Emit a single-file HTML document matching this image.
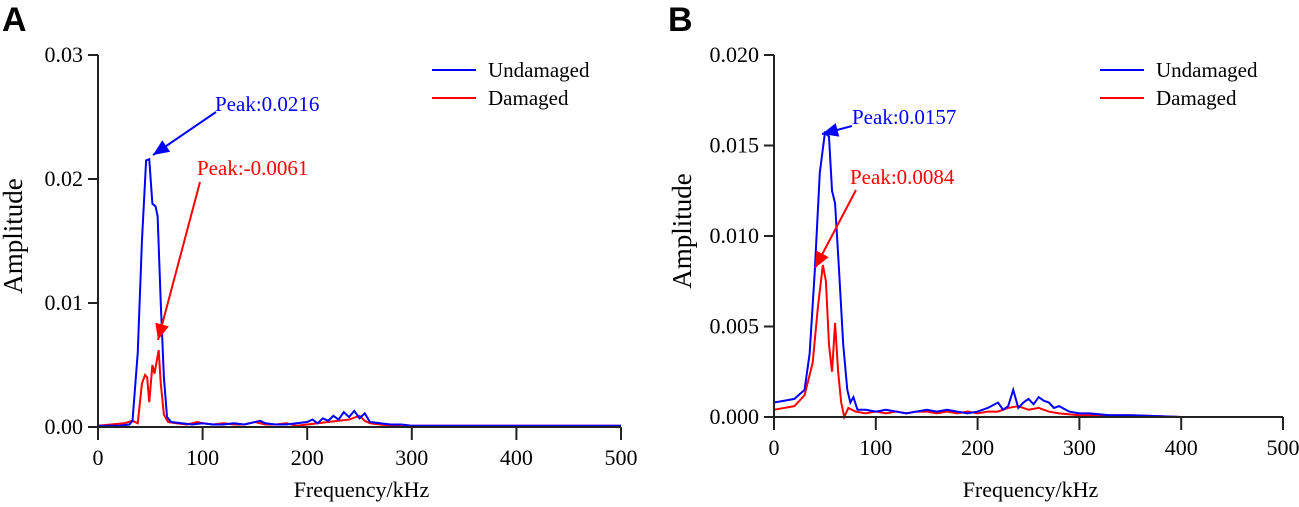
<!DOCTYPE html>
<html><head><meta charset="utf-8"><style>
body{margin:0;background:#fff;width:1299px;height:502px;overflow:hidden}
svg{font-family:"Liberation Serif",serif}
.pl{font-family:"Liberation Sans",sans-serif;font-weight:bold;font-size:34px}
</style></head><body>
<svg id="s" width="1299" height="502"></svg>
<script>
// Panel A data
const freqA_U=[0,20,30,33,38,42,46,49,52,55,57,60,63,66,70,80,90,100,110,120,130,140,150,155,160,170,180,190,200,205,210,215,220,225,230,235,240,245,250,255,260,270,280,290,300,320,350,400,450,500];
const ampA_U=[0.0001,0.0001,0.0002,0.0005,0.006,0.015,0.0215,0.0216,0.018,0.0178,0.017,0.010,0.004,0.0008,0.0004,0.0003,0.0002,0.0003,0.0002,0.0002,0.0003,0.0002,0.0004,0.0005,0.0003,0.0002,0.0002,0.0003,0.0004,0.0006,0.0003,0.0007,0.0005,0.0009,0.0006,0.0012,0.0008,0.0013,0.0007,0.0011,0.0004,0.0003,0.0002,0.0002,0.0001,0.0001,0.0001,0.0001,0.0001,0.0001];
const freqA_D=[0,25,33,38,42,45,47,49,52,54,58,60,63,67,75,85,95,100,110,120,130,140,150,155,160,170,180,190,200,210,220,230,240,250,255,260,270,280,300,350,400,450,500];
const ampA_D=[0.0001,0.0003,0.0005,0.0003,0.0035,0.0042,0.0040,0.0020,0.0050,0.0043,0.0062,0.0035,0.0010,0.0004,0.0003,0.0002,0.0004,0.0003,0.0002,0.0003,0.0002,0.0002,0.0004,0.0003,0.0002,0.0002,0.0003,0.0001,0.0002,0.0003,0.0004,0.0005,0.0006,0.0009,0.0005,0.0003,0.0002,0.0001,0.0001,0.0001,0.0001,0.0001,0.0001];
// Panel B data
const freqB_U=[0,10,20,30,35,40,45,50,54,57,60,64,68,72,75,78,82,90,100,110,120,130,140,150,160,170,180,190,200,210,220,225,230,235,240,245,250,255,260,265,270,275,280,290,300,310,330,350,400,450,500];
const ampB_U=[0.0008,0.0009,0.001,0.0015,0.0035,0.008,0.0135,0.0157,0.0155,0.0125,0.0118,0.008,0.004,0.0015,0.0008,0.0011,0.0004,0.0004,0.0003,0.0004,0.0003,0.0002,0.0003,0.0004,0.0003,0.0004,0.0003,0.0002,0.0003,0.0005,0.0008,0.0004,0.0006,0.0015,0.0005,0.0008,0.0010,0.0007,0.0011,0.0009,0.0008,0.0005,0.0006,0.0003,0.0002,0.0002,0.0001,0.0001,0.0,0.0,0.0];
const freqB_D=[0,10,20,30,38,43,48,51,54,57,60,63,66,69,73,80,90,100,110,120,130,140,150,160,170,180,190,200,210,220,230,240,250,260,270,280,300,350,400,450,500];
const ampB_D=[0.0004,0.0005,0.0006,0.0012,0.003,0.006,0.0084,0.0075,0.004,0.0025,0.0052,0.0025,0.0008,0.0,0.0005,0.0003,0.0002,0.0003,0.0002,0.0003,0.0002,0.0003,0.0003,0.0002,0.0003,0.0002,0.0003,0.0002,0.0003,0.0003,0.0005,0.0006,0.0004,0.0005,0.0003,0.0002,0.0001,0.0001,0.0,0.0,0.0];
const ticksX=[0,100,200,300,400,500];
const ticksA=[0,0.01,0.02,0.03], ticksAL=["0.00","0.01","0.02","0.03"];
const ticksB=[0,0.005,0.01,0.015,0.02], ticksBL=["0.000","0.005","0.010","0.015","0.020"];

const NS="http://www.w3.org/2000/svg", svg=document.getElementById('s');
function mk(t,a,txt){const e=document.createElementNS(NS,t);for(const k in a)e.setAttribute(k,a[k]);if(txt!==undefined)e.textContent=txt;svg.appendChild(e);return e;}
function arrow(x1,y1,x2,y2,c){
  const l=mk('line',{x1,y1,x2,y2,stroke:c,'stroke-width':2});
  
  
  const a=Math.atan2(y2-y1,x2-x1),L=16,W=7;
  const bx=x2-L*Math.cos(a),by=y2-L*Math.sin(a);
  const p=mk('polygon',{points:`${x2},${y2} ${bx-W*Math.sin(a)},${by+W*Math.cos(a)} ${bx+W*Math.sin(a)},${by-W*Math.cos(a)}`,fill:c});
  
  
}
function panel(o){
  const X=f=>o.x0+(o.x1-o.x0)*f/500, Y=v=>o.y0-(o.y0-o.yt)*v/o.ymax;
  const lab=mk('text',{x:o.lx,y:31,class:'pl'},o.letter);
  
  
  function series(fr,am,c,n){
    const p=mk('polyline',{points:fr.map((f,i)=>X(f)+','+Y(am[i])).join(' '),fill:'none',stroke:c,'stroke-width':2});
    
    
  }
  series(o.fD,o.aD,'#f00','damaged-line');
  series(o.fU,o.aU,'#00f','undamaged-line');
  const ax=mk('path',{d:`M${o.x0},${o.yt}V${o.y0}H${o.x1}`,stroke:'#222','stroke-width':2,fill:'none'});
  
  
  ticksX.forEach(t=>{
    mk('line',{x1:X(t),x2:X(t),y1:o.y0,y2:o.y0+13,stroke:'#222','stroke-width':2});
    const e=mk('text',{x:X(t),y:o.y0+38,'text-anchor':'middle','font-size':22},t);
    
    
  });
  o.ty.forEach((t,i)=>{
    mk('line',{x1:o.x0-10,x2:o.x0,y1:Y(t),y2:Y(t),stroke:'#222','stroke-width':2});
    const e=mk('text',{x:o.x0-15,y:Y(t)+7,'text-anchor':'end','font-size':22},o.tl[i]);
    
    
  });
  const xt=mk('text',{x:(o.x0+o.x1)/2+2,y:497,'text-anchor':'middle','font-size':22},'Frequency/kHz');
  
  
  const yt=mk('text',{x:0,y:0,'text-anchor':'middle','font-size':27,transform:`translate(${o.yx},${(o.yt+o.y0)/2-5}) rotate(-90)`},'Amplitude');
  
  
  [['Undamaged','#00f',70],['Damaged','#f00',98]].forEach(([n,c,y])=>{
    mk('line',{x1:o.lg,x2:o.lg+44,y1:y,y2:y,stroke:c,'stroke-width':2});
    const e=mk('text',{x:o.lg+56,y:y+7,'font-size':21},n);
    
    
  });
  o.ann.forEach(a=>{
    const e=mk('text',{x:a.tx,y:a.ty,'font-size':21,fill:a.c},a.t);
    
    
    arrow(a.x1,a.y1,a.x2,a.y2,a.c);
  });
}
panel({letter:'A',lx:2,x0:98,x1:621,y0:427,yt:55,ymax:0.03,ty:ticksA,tl:ticksAL,yx:22,lg:432,
  fU:freqA_U,aU:ampA_U,fD:freqA_D,aD:ampA_D,
  ann:[{t:'Peak:0.0216',c:'#00f',tx:215,ty:111,x1:216,y1:112,x2:153,y2:155},
       {t:'Peak:-0.0061',c:'#f00',tx:197,ty:175,x1:200,y1:182,x2:158,y2:340}]});
panel({letter:'B',lx:668,x0:774,x1:1283,y0:417,yt:55,ymax:0.02,ty:ticksB,tl:ticksBL,yx:691,lg:1100,
  fU:freqB_U,aU:ampB_U,fD:freqB_D,aD:ampB_D,
  ann:[{t:'Peak:0.0157',c:'#00f',tx:852,ty:124,x1:852,y1:126,x2:822,y2:134},
       {t:'Peak:0.0084',c:'#f00',tx:850,ty:184,x1:856,y1:190,x2:815,y2:268}]});
</script>
</body></html>
